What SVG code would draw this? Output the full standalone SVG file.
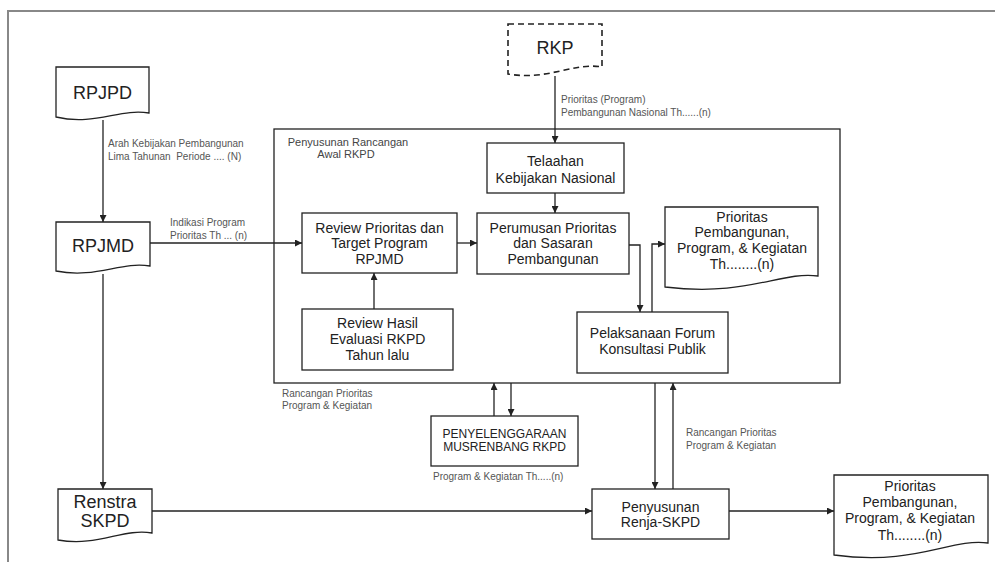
<svg xmlns="http://www.w3.org/2000/svg" width="995" height="562" viewBox="0 0 995 562">
<defs>
<marker id="arr" markerWidth="7" markerHeight="7" refX="7" refY="3.5" orient="auto" markerUnits="userSpaceOnUse">
<path d="M0,0 L7,3.5 L0,7 z" fill="#222"/>
</marker>
<style>
text{font-family:"Liberation Sans",Arial,sans-serif;fill:#222}
.big{font-size:18px;text-anchor:middle}
.bx{font-size:14px;text-anchor:middle}
.lb{font-size:10px;fill:#555;white-space:pre}
.shape{fill:#fff;stroke:#222;stroke-width:1.3}
.dash{fill:#fff;stroke:#222;stroke-width:1.6;stroke-dasharray:6,4}
.con{fill:none;stroke:#222;stroke-width:1.3;marker-end:url(#arr)}
</style>
</defs>
<rect width="995" height="562" fill="#fff"/>
<path d="M8,562 V11 H995" fill="none" stroke="#888" stroke-width="2"/>

<g id="penyusunan-rancangan">
<rect class="shape" x="274" y="129" width="566" height="254"/>
<text class="bx" style="font-size:11px;fill:#444" x="348" y="146">Penyusunan Rancangan</text>
<text class="bx" style="font-size:11px;fill:#444" x="346" y="158">Awal RKPD</text>
</g>

<g id="rpjpd">
<path class="shape" d="M56,67 H149 V113 C120,108 95,126 56,117 Z"/>
<text class="big" x="102.5" y="99">RPJPD</text>
</g>

<g id="rpjmd">
<path class="shape" d="M56,222 H150 V266 C121,261 96,279 56,271 Z"/>
<text class="big" x="103" y="252">RPJMD</text>
</g>

<g id="renstra">
<path class="shape" d="M58,489 H152 V533 C123,528 98,547 58,540 Z"/>
<text class="big" x="105" y="508">Renstra</text>
<text class="big" x="105" y="527">SKPD</text>
</g>

<g id="rkp">
<path class="dash" d="M508,24 H602 V67 C573,62 548,81 508,74 Z"/>
<text class="big" x="555" y="54">RKP</text>
</g>

<g id="telaahan">
<rect class="shape" x="487" y="143" width="137" height="50"/>
<text class="bx" x="555.5" y="166">Telaahan</text>
<text class="bx" x="555.5" y="183">Kebijakan Nasional</text>
</g>

<g id="review-prioritas">
<rect class="shape" x="302" y="213" width="155" height="60"/>
<text class="bx" x="379.5" y="233">Review Prioritas dan</text>
<text class="bx" x="379.5" y="248">Target Program</text>
<text class="bx" x="379.5" y="264">RPJMD</text>
</g>

<g id="perumusan">
<rect class="shape" x="477" y="213" width="152" height="61"/>
<text class="bx" x="553" y="233">Perumusan Prioritas</text>
<text class="bx" x="553" y="248">dan Sasaran</text>
<text class="bx" x="553" y="264">Pembangunan</text>
</g>

<g id="review-hasil">
<rect class="shape" x="302" y="309" width="151" height="61"/>
<text class="bx" x="377.5" y="328">Review Hasil</text>
<text class="bx" x="377.5" y="344">Evaluasi RKPD</text>
<text class="bx" x="377.5" y="360">Tahun lalu</text>
</g>

<g id="pelaksanaan">
<rect class="shape" x="577" y="312" width="151" height="61"/>
<text class="bx" x="652.5" y="338">Pelaksanaan Forum</text>
<text class="bx" x="652.5" y="354">Konsultasi Publik</text>
</g>

<g id="prioritas-dalam">
<path class="shape" d="M665,207 H818 V276 C780,271 748,297 665,287 Z"/>
<text class="bx" x="742" y="222">Prioritas</text>
<text class="bx" x="742" y="237">Pembangunan,</text>
<text class="bx" x="742" y="253">Program, &amp; Kegiatan</text>
<text class="bx" x="742" y="269">Th........(n)</text>
</g>

<g id="musrenbang">
<rect class="shape" x="431" y="416" width="147" height="50"/>
<text class="bx" style="font-size:12px" x="504.5" y="438">PENYELENGGARAAN</text>
<text class="bx" style="font-size:12px" x="504.5" y="451">MUSRENBANG RKPD</text>
</g>

<g id="renja">
<rect class="shape" x="592" y="489" width="137" height="50"/>
<text class="bx" x="660.5" y="512">Penyusunan</text>
<text class="bx" x="660.5" y="527">Renja-SKPD</text>
</g>

<g id="prioritas-akhir">
<path class="shape" d="M834,475 H988 V543 C950,538 916,566 834,555 Z"/>
<text class="bx" x="910" y="491">Prioritas</text>
<text class="bx" x="910" y="507">Pembangunan,</text>
<text class="bx" x="910" y="523">Program, &amp; Kegiatan</text>
<text class="bx" x="910" y="540">Th........(n)</text>
</g>

<g id="connectors">
<path class="con" d="M103,120 V222"/>
<path class="con" d="M103,274 V489"/>
<path class="con" d="M150,243 H302"/>
<path class="con" d="M555,76 V143"/>
<path class="con" d="M555,193 V213"/>
<path class="con" d="M457,243 H477"/>
<path class="con" d="M374,309 V273"/>
<path class="con" d="M629,245 H640 V312"/>
<path class="con" d="M652,312 V244 H665"/>
<path class="con" d="M494,416 V383"/>
<path class="con" d="M511,383 V416"/>
<path class="con" d="M655,383 V489"/>
<path class="con" d="M673,489 V383"/>
<path class="con" d="M152,511 H592"/>
<path class="con" d="M729,511 H834"/>
</g>

<g id="labels">
<text class="lb" x="108" y="147">Arah Kebijakan Pembangunan</text>
<text class="lb" x="108" y="160">Lima Tahunan  Periode .... (N)</text>
<text class="lb" x="170" y="226">Indikasi Program</text>
<text class="lb" x="170" y="239">Prioritas Th ... (n)</text>
<text class="lb" x="561" y="103">Prioritas (Program)</text>
<text class="lb" x="561" y="116">Pembangunan Nasional Th......(n)</text>
<text class="lb" x="282" y="397">Rancangan Prioritas</text>
<text class="lb" x="282" y="409">Program &amp; Kegiatan</text>
<text class="lb" x="433" y="480">Program &amp; Kegiatan Th.....(n)</text>
<text class="lb" x="686" y="436">Rancangan Prioritas</text>
<text class="lb" x="686" y="449">Program &amp; Kegiatan</text>
</g>
</svg>
